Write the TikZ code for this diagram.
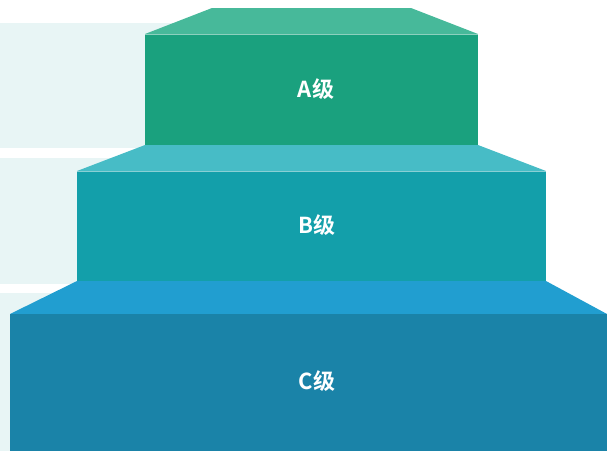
\documentclass[tikz,border=0pt]{standalone}
\usepackage{fontspec}
\newfontfamily\cjk{Noto Sans CJK SC}[BoldFont={Noto Sans CJK SC Bold}]
\definecolor{band}{HTML}{E8F5F5}
\definecolor{atop}{HTML}{47B99A}
\definecolor{afront}{HTML}{1AA17E}
\definecolor{btop}{HTML}{47BCC6}
\definecolor{bfront}{HTML}{139FAA}
\definecolor{ctop}{HTML}{219ED0}
\definecolor{cfront}{HTML}{1A83A8}
\tikzset{
  lbl/.style={text=white, font=\cjk\bfseries\fontsize{22}{26}\selectfont, inner sep=0pt},
  edge/.style={white, opacity=0.5, line width=0.7pt}
}
\begin{document}
\begin{tikzpicture}[x=1pt,y=-1pt]
\useasboundingbox (0,0) rectangle (607,451);
% background bands
\fill[band] (0,23) rectangle (300,148);
\fill[band] (0,158) rectangle (300,284);
\fill[band] (0,293) rectangle (300,451);
% block C
\fill[ctop] (77,281) -- (546,281) -- (607,314) -- (10,314) -- cycle;
\fill[cfront] (10,314) rectangle (607,451);
% block B
\fill[btop] (145,145) -- (478,145) -- (546,171) -- (77,171) -- cycle;
\fill[bfront] (77,171) rectangle (546,281);
\draw[edge] (77,171) -- (546,171) -- (546,281);
% block A
\fill[atop] (212,8) -- (411,8) -- (478,34) -- (145,34) -- cycle;
\fill[afront] (145,34) rectangle (478,145);
\draw[edge] (145,34) -- (478,34) -- (478,145);
% labels
\node[lbl] (a) at (316,89) {A级};
\node[lbl] (b) at (317,225) {B级};
\node[lbl] (c) at (317,381) {C级};
\end{tikzpicture}
\end{document}
